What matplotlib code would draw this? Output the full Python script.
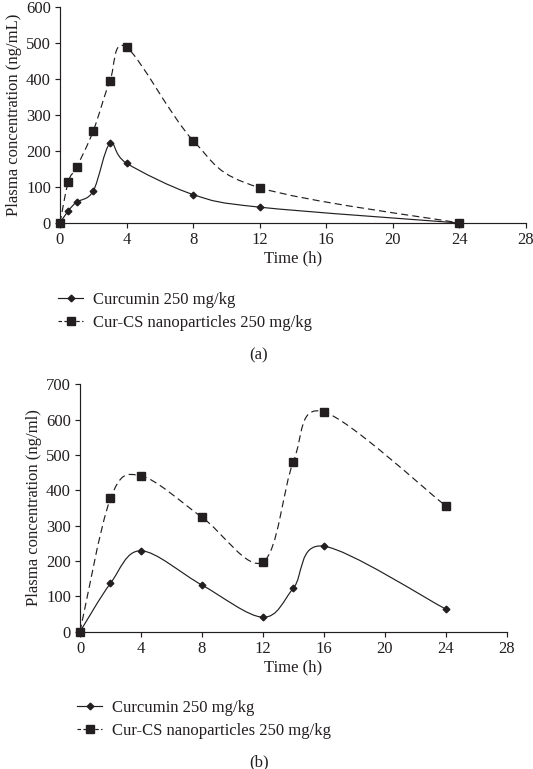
import numpy as np
import matplotlib
matplotlib.use("Agg")
import matplotlib.pyplot as plt
from matplotlib.path import Path
from matplotlib.patches import PathPatch
from matplotlib.lines import Line2D

# ---- data ----
time_a = [0, 0.5, 1, 2, 3, 4, 8, 12, 24]
cur_a = [0, 34, 58, 89, 221, 166, 79, 44, 0]
nano_a = [0, 115, 155, 256, 395, 488, 229, 98, 0]

time_b = [0, 2, 4, 8, 12, 14, 16, 24]
cur_b = [0, 137, 229, 132, 41, 123, 242, 64]
nano_b = [0, 377, 441, 324, 197, 481, 622, 356]

xticks = [0, 4, 8, 12, 16, 20, 24, 28]
yticks_a = [0, 100, 200, 300, 400, 500, 600]
yticks_b = [0, 100, 200, 300, 400, 500, 600, 700]

label_cur = "Curcumin 250 mg/kg"
label_nano = "Cur-CS nanoparticles 250 mg/kg"

C = "#231f20"
plt.rcParams['font.family'] = ['Liberation Serif', 'DejaVu Serif']
FS = 12
LW = 0.85
MS_D = 3.4
MS_S = 5.2


def smooth_path(x, y):
    x = np.asarray(x, float); y = np.asarray(y, float)
    n = len(x)
    verts = [(x[0], y[0])]
    codes = [Path.MOVETO]
    for i in range(n - 1):
        p0 = np.array([x[max(i - 1, 0)], y[max(i - 1, 0)]])
        p1 = np.array([x[i], y[i]])
        p2 = np.array([x[i + 1], y[i + 1]])
        p3 = np.array([x[min(i + 2, n - 1)], y[min(i + 2, n - 1)]])
        c1 = p1 + (p2 - p0) / 6.0
        c2 = p2 - (p3 - p1) / 6.0
        verts += [tuple(c1), tuple(c2), tuple(p2)]
        codes += [Path.CURVE4] * 3
    return Path(verts, codes)


def draw(ax, t, cur, nano, yticks, ylabel):
    ax.add_patch(PathPatch(smooth_path(t, cur), fill=False, edgecolor=C, lw=LW))
    ax.add_patch(PathPatch(smooth_path(t, nano), fill=False, edgecolor=C, lw=LW,
                           linestyle=(0, (6, 3.5))))
    ax.plot(t, cur, linestyle='none', marker='D', ms=MS_D, color=C, clip_on=False, zorder=3)
    ax.plot(t, nano, linestyle='none', marker='s', ms=MS_S, color=C, clip_on=False, zorder=3)
    ax.set_xlim(0, 28)
    ax.set_ylim(yticks[0], yticks[-1])
    ax.set_xticks(xticks)
    ax.set_yticks(yticks)
    for s in ['top', 'right']:
        ax.spines[s].set_visible(False)
    for s in ['left', 'bottom']:
        ax.spines[s].set_color(C)
        ax.spines[s].set_linewidth(LW)
    ax.tick_params(axis='both', direction='out', length=3.5, width=LW, color=C,
                   labelsize=FS, labelcolor=C, pad=3)
    ax.set_xlabel("Time (h)", fontsize=FS, color=C, labelpad=2)
    ax.set_ylabel(ylabel, fontsize=FS, color=C, labelpad=3)


fig = plt.figure(figsize=(5.33, 7.69), dpi=100)
ax1 = fig.add_axes([60 / 533, 1 - 223 / 769, (526 - 60) / 533, (223 - 7) / 769])
ax2 = fig.add_axes([80 / 533, 1 - 631.7 / 769, (506.7 - 80) / 533, (631.7 - 384.3) / 769])

draw(ax1, time_a, cur_a, nano_a, yticks_a, "Plasma concentration (ng/mL)")
draw(ax2, time_b, cur_b, nano_b, yticks_b, "Plasma concentration (ng/ml)")

h_cur = Line2D([], [], color=C, lw=LW, marker='D', ms=MS_D)
h_nano = Line2D([], [], color=C, lw=LW, marker='s', ms=MS_S, linestyle=(0, (3, 2)))

for (lx, ly) in [(58 / 533, 1 - 292 / 769), (77 / 533, 1 - 700 / 769)]:
    fig.legend([h_cur, h_nano], [label_cur, label_nano], loc='upper left',
               bbox_to_anchor=(lx, ly), frameon=False, fontsize=FS,
               handlelength=1.5, handletextpad=0.6, labelspacing=0.4,
               borderpad=0, borderaxespad=0, labelcolor=C)

fig.text(259 / 533, 1 - 355 / 769, "(a)", ha='center', va='center', fontsize=FS, color=C)
fig.text(259 / 533, 1 - 762 / 769, "(b)", ha='center', va='center', fontsize=FS, color=C)

fig.savefig("out.png", dpi=100)
